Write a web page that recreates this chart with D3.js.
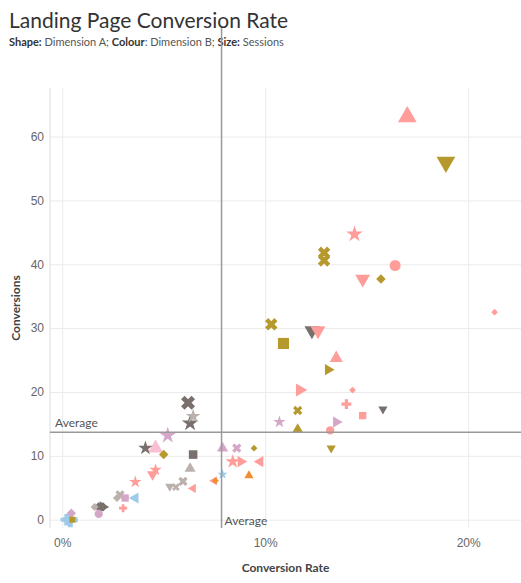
<!DOCTYPE html>
<html>
<head>
<meta charset="utf-8">
<script src="https://cdn.jsdelivr.net/npm/d3@7"></script>
<style>
  body { margin: 0; background: #fff; font-family: Lato, "Open Sans", sans-serif; }
  .grid line { stroke: #ebebeb; }
  .tick text { fill: #666; font-size: 12px; }
</style>
</head>
<body>
<svg id="chart" width="521" height="583"></svg>
<script>
    "use strict";

    // values
    var rates = [17.0, 18.9, 14.4, 16.4, 15.7, 14.8, 12.9, 12.9, 10.3, 10.9, 12.3, 12.6,
        13.5, 13.1, 21.3, 11.7, 14.3, 14.0, 15.8, 14.8, 11.6, 10.7, 13.5, 11.6, 13.2, 13.25,
        8.6, 9.45, 7.9, 8.4, 8.8, 9.75, 9.2, 6.2, 6.45, 6.3, 5.2, 4.1, 4.6, 5.0, 6.45,
        4.6, 4.45, 6.3, 3.6, 5.3, 5.95, 5.6, 6.45, 7.5, 7.55, 7.9, 2.85, 2.7, 3.1, 3.6,
        3.0, 1.6, 1.9, 2.0, 1.8, 0.4, 0.2, 0.45, 0.5];
    var conversions = [63.1, 56.0, 44.7, 39.8, 37.7, 37.7, 41.8, 40.6, 30.6, 27.6, 29.6, 29.6,
        25.3, 23.5, 32.5, 20.3, 20.3, 18.1, 17.3, 16.3, 17.1, 15.3, 15.3, 14.1, 14.0, 11.2,
        11.2, 11.2, 11.2, 9.1, 9.1, 9.1, 6.9, 18.3, 16.2, 15.1, 13.2, 11.2, 11.2, 10.2, 10.2,
        7.8, 7.1, 8.0, 5.9, 5.2, 6.0, 5.1, 4.9, 6.1, 6.1, 7.1, 3.9, 3.4, 3.4, 3.4,
        1.8, 2.0, 2.0, 2.0, 0.9, 0.0, 0.0, 1.0, 0.0];
    var shapesA = ["tri-up", "tri-down", "star", "circle", "diamond", "tri-down", "x", "x", "x", "square", "tri-down", "tri-down",
        "tri-up", "tri-right", "diamond", "tri-right", "diamond", "plus", "tri-down", "square", "x", "star", "tri-right", "tri-up", "circle", "tri-down",
        "x", "diamond", "tri-up", "star", "tri-right", "tri-left", "tri-up", "x", "star", "star", "star", "star", "tri-up", "diamond", "square",
        "star", "tri-down", "tri-up", "star", "tri-down", "x", "x", "tri-left", "tri-left", "diamond", "star", "x", "diamond", "square", "tri-left",
        "plus", "diamond", "x", "tri-right", "circle", "plus", "plus", "diamond", "square"];
    var coloursB = ["p", "o", "p", "p", "o", "p", "o", "o", "o", "o", "d", "p",
        "p", "o", "p", "p", "p", "p", "d", "p", "o", "l", "l", "o", "p", "o",
        "l", "o", "l", "p", "p", "p", "r", "d", "g", "d", "l", "d", "k", "o", "d",
        "p", "p", "g", "p", "g", "g", "g", "p", "p", "r", "b", "g", "g", "l", "b",
        "p", "g", "d", "d", "l", "b", "b", "l", "o"];
    var sessions = [9, 9, 7, 7, 6, 7, 7, 7, 7, 8, 7, 7,
        6, 5, 4, 6, 4, 5, 4, 5, 5, 5, 5, 5, 5, 4,
        5, 4, 5, 6, 5, 5, 4, 8, 6, 7, 7, 6, 7, 6, 6,
        5, 5, 5, 5, 4, 5, 4, 4, 4, 4, 4, 5, 5, 5, 5,
        4, 5, 5, 5, 5, 8, 6, 6, 4];
    var avgRate = 7.85;
    var avgConversions = 13.7;

    var palette = { p: "#ff9d9a", o: "#b6992d", d: "#79706e", g: "#bab0ac", l: "#d4a6c8",
        k: "#fabfd2", b: "#a0cbe8", r: "#f28e2b" };

(function () {
    var svg = d3.select("#chart");
    var left = 50, right = 521, top = 88, bottom = 528;

    var x = d3.scaleLinear().domain([-0.6, 22.6]).range([left, right]);
    var y = d3.scaleLinear().domain([-1.3, 67.6]).range([bottom, top]);
    var r = d3.scaleLinear().domain([4, 9]).range([3.2, 6.5]);

    svg.append("text").attr("x", 9).attr("y", 28).attr("font-size", 21).attr("fill", "#333")
        .text("Landing Page Conversion Rate");
    var sub = svg.append("text").attr("x", 9).attr("y", 46).attr("font-size", 11).attr("fill", "#555");
    [["Shape:", true], [" Dimension A; ", false], ["Colour", true], [": Dimension B; ", false],
        ["Size:", true], [" Sessions", false]].forEach(function (p) {
        sub.append("tspan").attr("font-weight", p[1] ? "bold" : "normal")
            .attr("fill", p[1] ? "#333" : "#555").text(p[0]);
    });

    svg.append("g").attr("class", "grid").attr("transform", "translate(0," + bottom + ")")
        .call(d3.axisBottom(x).tickValues([0, 10, 20]).tickSize(top - bottom).tickFormat(""))
        .call(function (g) { g.select(".domain").remove(); });
    svg.append("g").attr("class", "grid").attr("transform", "translate(" + left + ",0)")
        .call(d3.axisLeft(y).tickValues([0, 10, 20, 30, 40, 50, 60]).tickSize(left - right).tickFormat(""))
        .call(function (g) { g.select(".domain").remove(); });

    svg.append("g").attr("transform", "translate(0," + (bottom + 2) + ")")
        .call(d3.axisBottom(x).tickValues([0, 10, 20]).tickSize(0).tickPadding(8)
            .tickFormat(function (d) { return d + "%"; }))
        .call(function (g) { g.select(".domain").remove(); });
    svg.append("g").attr("transform", "translate(" + (left - 4) + ",0)")
        .call(d3.axisLeft(y).tickValues([0, 10, 20, 30, 40, 50, 60]).tickSize(0).tickPadding(2))
        .call(function (g) { g.select(".domain").remove(); });
    svg.append("line").attr("x1", left).attr("x2", left).attr("y1", top).attr("y2", bottom).attr("stroke", "#ddd");

    svg.append("text").attr("x", (left + right) / 2).attr("y", 572).attr("text-anchor", "middle")
        .attr("font-size", 12).attr("font-weight", "bold").attr("fill", "#444").text("Conversion Rate");
    svg.append("text").attr("transform", "translate(20," + (top + bottom) / 2 + ") rotate(-90)")
        .attr("text-anchor", "middle").attr("font-size", 12).attr("font-weight", "bold")
        .attr("fill", "#444").text("Conversions");

    var symbolFor = {
        "circle": [d3.symbolCircle, 0], "square": [d3.symbolSquare, 0], "plus": [d3.symbolCross, 0],
        "x": [d3.symbolCross, 45], "diamond": [d3.symbolSquare, 45], "star": [d3.symbolStar, 0],
        "tri-up": [d3.symbolTriangle, 0], "tri-down": [d3.symbolTriangle, 180],
        "tri-left": [d3.symbolTriangle, -90], "tri-right": [d3.symbolTriangle, 90]
    };

    var data = rates.map(function (v, i) {
        return { rate: v, conv: conversions[i], shape: shapesA[i], colour: coloursB[i], size: sessions[i] };
    });
    data.sort(function (a, b) { return b.size - a.size; });

    svg.append("g").selectAll("path").data(data).join("path")
        .attr("transform", function (d) {
            return "translate(" + x(d.rate) + "," + y(d.conv) + ") rotate(" + symbolFor[d.shape][1] + ")";
        })
        .attr("d", function (d) {
            var s = r(d.size);
            var area = s * s * (d.shape === "diamond" ? 2.2 : d.shape === "star" ? 3.2 : 3.6);
            return d3.symbol().type(symbolFor[d.shape][0]).size(area)();
        })
        .attr("fill", function (d) { return palette[d.colour]; });

    svg.append("line").attr("x1", x(avgRate)).attr("x2", x(avgRate)).attr("y1", top - 60).attr("y2", bottom)
        .attr("stroke", "#999").attr("stroke-width", 1.5);
    svg.append("line").attr("x1", left).attr("x2", right).attr("y1", y(avgConversions)).attr("y2", y(avgConversions))
        .attr("stroke", "#999").attr("stroke-width", 1.5);
    svg.append("text").attr("x", left + 5).attr("y", y(avgConversions) - 5).attr("font-size", 12)
        .attr("fill", "#555").text("Average");
    svg.append("text").attr("x", x(avgRate) + 3).attr("y", bottom - 3).attr("font-size", 12)
        .attr("fill", "#555").text("Average");
})();
</script>
</body>
</html>
